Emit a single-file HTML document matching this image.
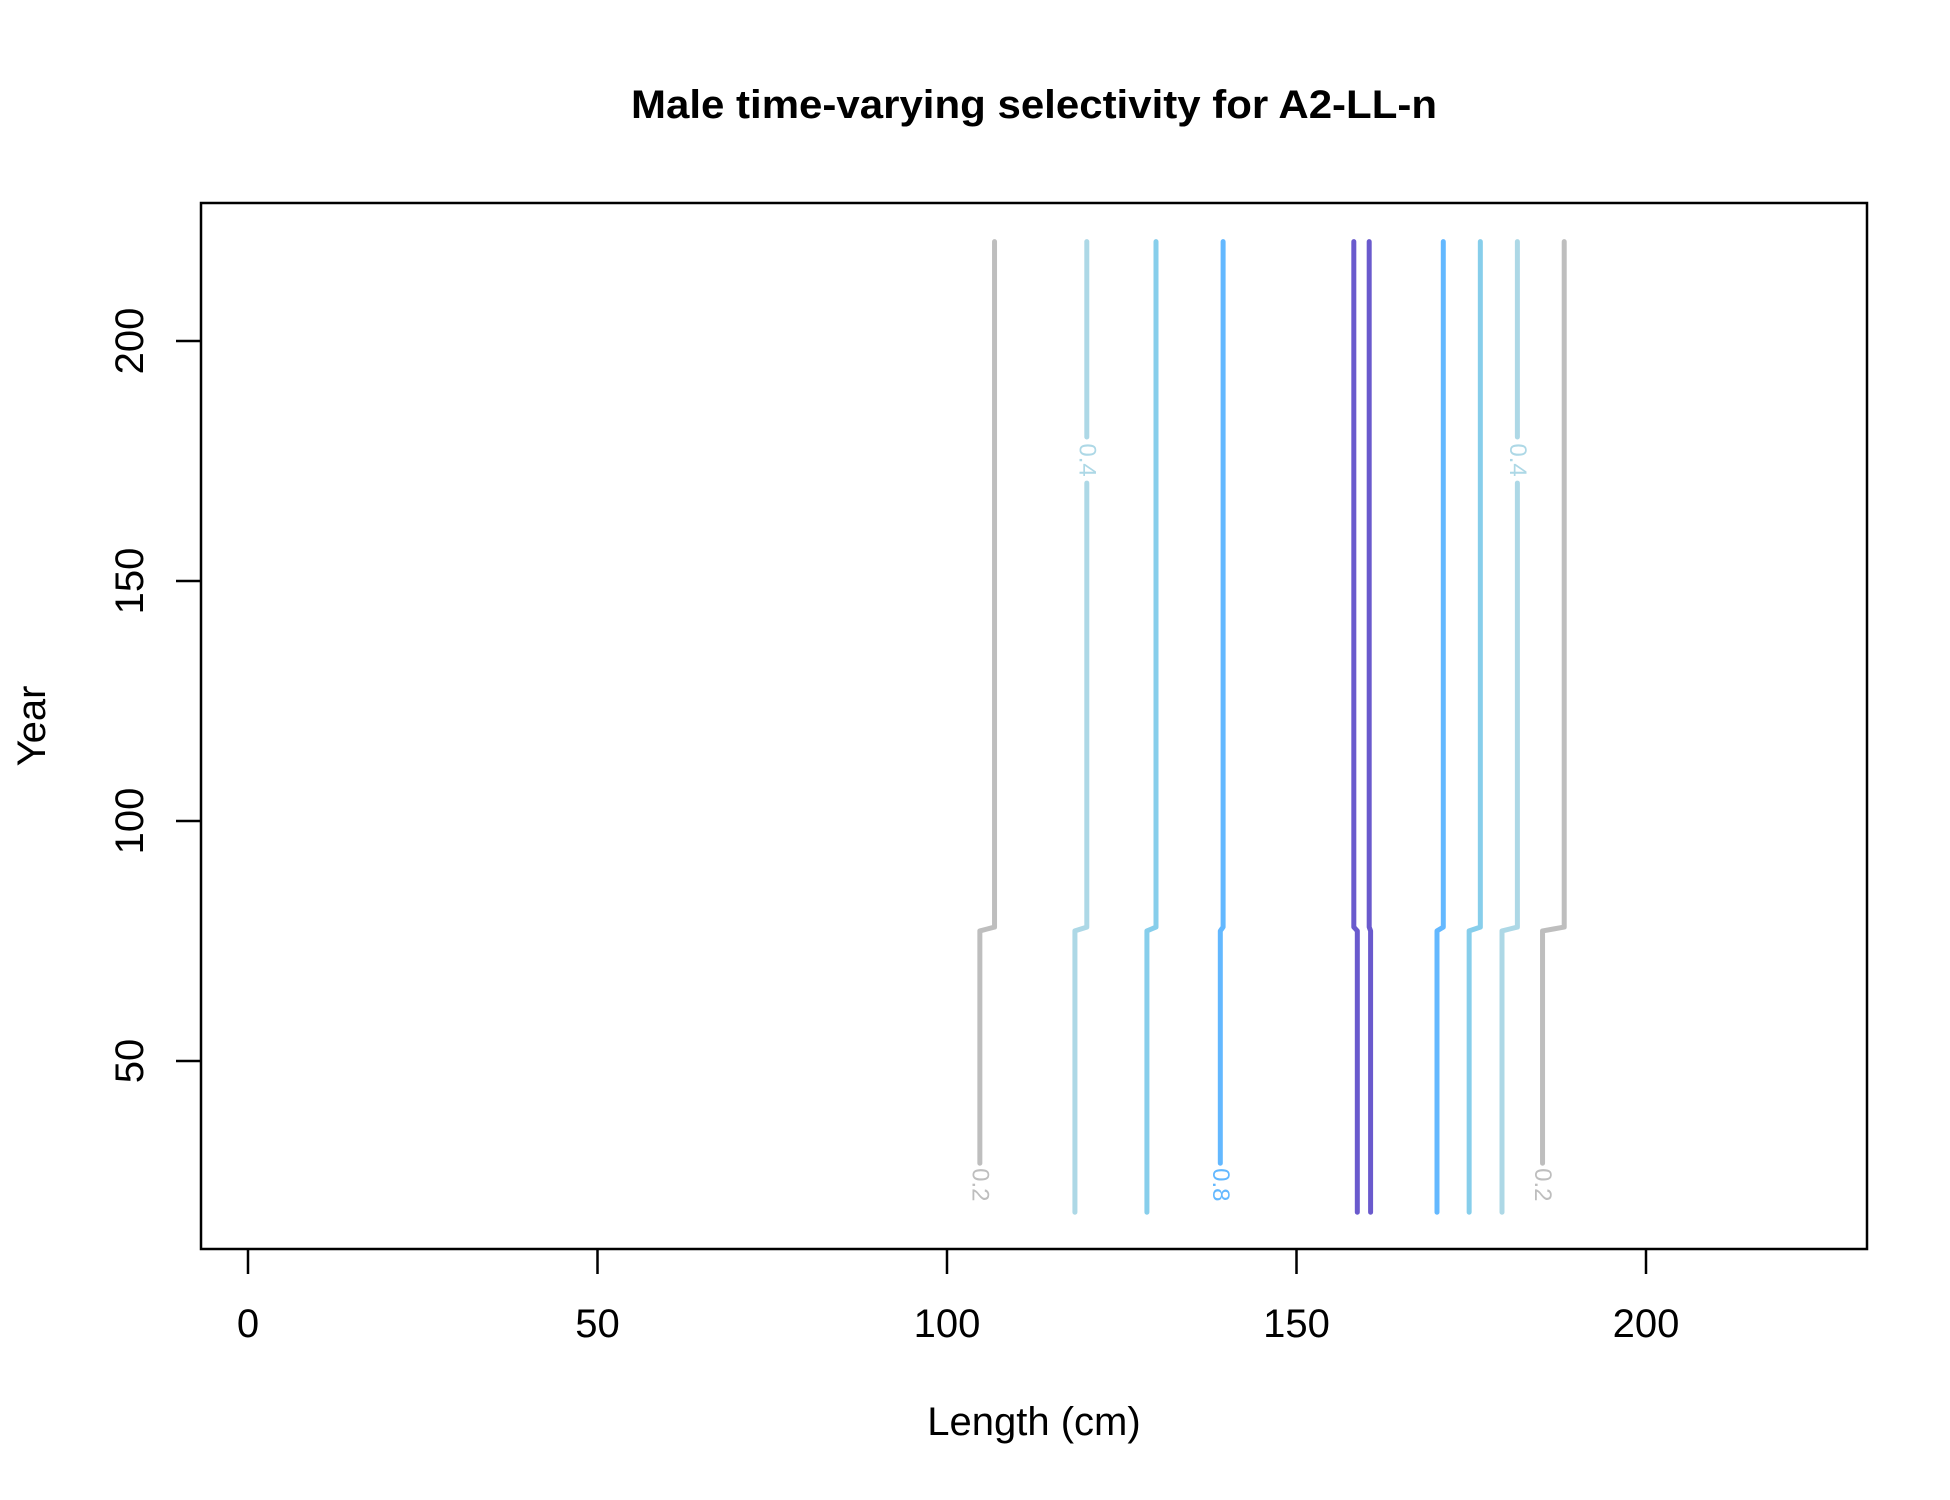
<!DOCTYPE html>
<html><head><meta charset="utf-8"><style>
html,body{margin:0;padding:0;background:#fff}
svg{display:block;font-family:"Liberation Sans",Arial,sans-serif}
</style></head><body>
<svg id="chart" width="1950" height="1500" viewBox="0 0 1950 1500" xmlns="http://www.w3.org/2000/svg">
<rect width="1950" height="1500" fill="#fff"/>
<text x="1034" y="118" text-anchor="middle" font-size="40" font-weight="bold" textLength="806" lengthAdjust="spacingAndGlyphs">Male time-varying selectivity for A2-LL-n</text>
<g id="axes"></g>
<g id="lines"></g>
<rect x="201" y="203" width="1666" height="1046" fill="none" stroke="#000" stroke-width="2.5"/>
<text x="1034" y="1435" text-anchor="middle" font-size="40">Length (cm)</text>
<text transform="translate(45,726) rotate(-90)" text-anchor="middle" font-size="40">Year</text>
</svg>
<script>
const xTicks = [0, 50, 100, 150, 200];
const yTicks = [50, 100, 150, 200];
const levels = ["0.2", "0.4", "0.6", "0.8", "1", "1", "0.8", "0.6", "0.4", "0.2"];
const xEarly = [104.7, 118.3, 128.6, 139.1, 158.7, 160.6, 170.1, 174.7, 179.4, 185.2];
const xLate  = [106.8, 120.0, 129.9, 139.5, 158.2, 160.4, 171.0, 176.3, 181.6, 188.3];
const labelAt = ["bottom", "top", "", "bottom", "", "", "", "", "top", "bottom"];
const yearStart = 18.5, yearStep = 77.5, yearEnd = 220.7;

const colors = {"0.2":"#BEBEBE","0.4":"#ADD8E6","0.6":"#87CEEB","0.8":"#63B8FF","1":"#6A5ACD"};
const X = v => 248 + (v) * 6.99;
const Y = v => 341 + (200 - v) * 4.8;
const NS = "http://www.w3.org/2000/svg";
const axes = document.getElementById('axes');
const lines = document.getElementById('lines');
function mk(tag, attrs, parent){const e=document.createElementNS(NS,tag);for(const k in attrs)e.setAttribute(k,attrs[k]);parent.appendChild(e);return e;}

xTicks.forEach(t=>{
  const l=mk('line',{x1:X(t),x2:X(t),y1:1249,y2:1274,stroke:'#000','stroke-width':2.5},axes);
  
  
  const tx=mk('text',{x:X(t),y:1337,'text-anchor':'middle','font-size':40},axes);
  tx.textContent=t;
  
  
});
yTicks.forEach(t=>{
  const l=mk('line',{x1:176,x2:201,y1:Y(t),y2:Y(t),stroke:'#000','stroke-width':2.5},axes);
  
  
  const tx=mk('text',{transform:`translate(143,${Y(t)}) rotate(-90)`,'text-anchor':'middle','font-size':40},axes);
  tx.textContent=t;
  
  
});

levels.forEach((lv,i)=>{
  const c=colors[lv];
  const xe=xEarly[i], xl=xLate[i];
  let gapLo=null, gapHi=null, labY=null, labX=null;
  if(labelAt[i]==='bottom'){gapLo=yearStart; gapHi=28.7; labY=24.2; labX=xe;}
  if(labelAt[i]==='top'){gapLo=170.4; gapHi=180; labY=175.2; labX=xl;}
  const pts=[[xe,yearStart],[xe,yearStep-0.4],[(xe+xl)/2,yearStep],[xl,yearStep+0.4],[xl,yearEnd]];
  // build segments, cutting gap
  let segs=[[]];
  for(let k=0;k<pts.length;k++){
    const [px,py]=pts[k];
    if(gapLo!==null && py>=gapLo && py<=gapHi){ continue; }
    segs[segs.length-1].push([px,py]);
  }
  if(gapLo!==null){
    // rebuild properly with gap boundary points
    const pre=[],post=[];
    pts.forEach(p=>{ if(p[1]<gapLo) pre.push(p); else if(p[1]>gapHi) post.push(p); });
    const xat = y => (y<yearStep? xe : xl);
    if(pre.length) pre.push([xat(gapLo),gapLo]);
    if(post.length) post.unshift([xat(gapHi),gapHi]);
    segs=[pre,post];
  }
  segs.forEach(s=>{
    if(s.length<2) return;
    const p=mk('polyline',{points:s.map(q=>X(q[0])+','+Y(q[1])).join(' '),fill:'none',stroke:c,'stroke-width':5,'stroke-linecap':'round','stroke-linejoin':'round'},lines);
    
    
  });
  if(labY!==null){
    const t=mk('text',{transform:`translate(${X(labX)},${Y(labY)}) rotate(90)`,'text-anchor':'middle','dominant-baseline':'central','font-size':24,fill:c},lines);
    t.textContent=lv;
    
    
  }
});
</script>
</body></html>
